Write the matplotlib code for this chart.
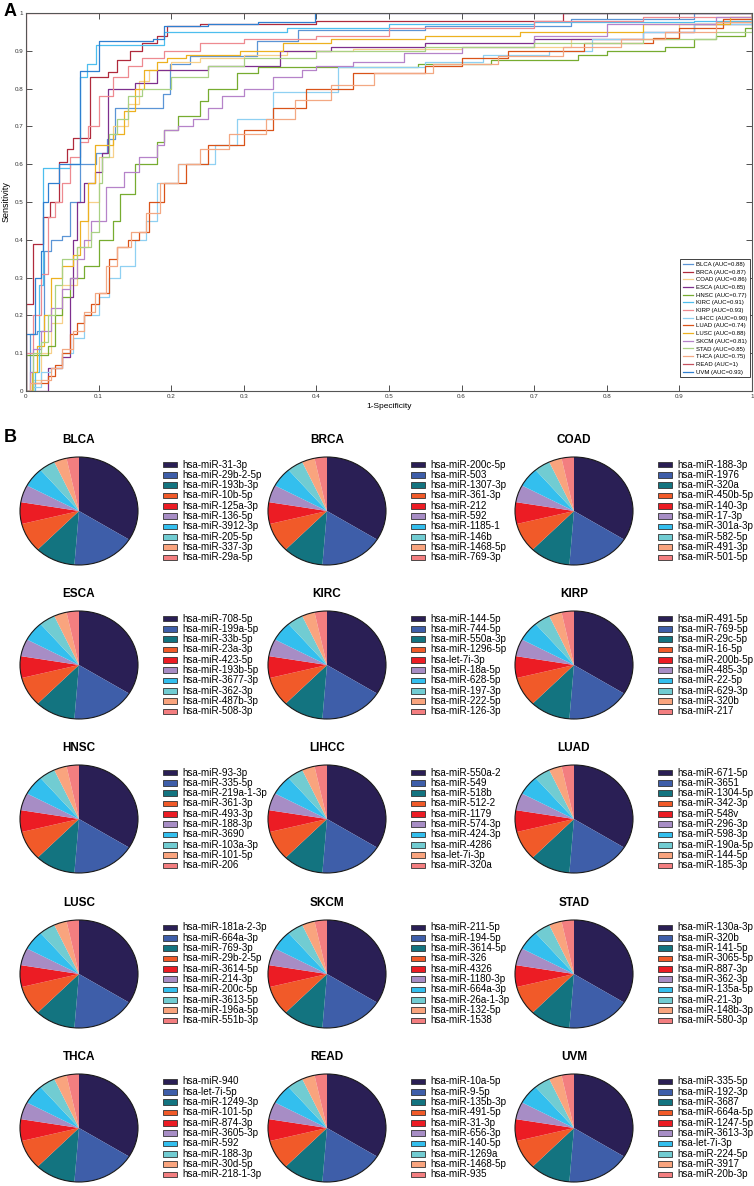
import matplotlib
matplotlib.use('Agg')
import matplotlib.pyplot as plt
from matplotlib.patches import Rectangle, Circle

plt.rcParams['font.family'] = ['Liberation Sans', 'DejaVu Sans']

W, H = 754, 1186

# ---------------- Panel A: ROC curves ----------------
cancers_roc = ['BLCA', 'BRCA', 'COAD', 'ESCA', 'HNSC', 'KIRC', 'KIRP', 'LIHCC',
               'LUAD', 'LUSC', 'SKCM', 'STAD', 'THCA', 'READ', 'UVM']
auc_labels = ['0.88', '0.87', '0.86', '0.85', '0.77', '0.91', '0.93', '0.90',
              '0.74', '0.88', '0.81', '0.85', '0.75', '1', '0.93']
roc_colors = ['#5b95d6', '#b02a3c', '#f7d08a', '#7e2f8e', '#77ac30', '#4dbeee',
              '#ee8a90', '#8fd0f2', '#d95319', '#edb120', '#b683c9', '#a9d184',
              '#f3a883', '#c4505e', '#2f7fd0']

fpr_BLCA = [0, 0.005, 0.015, 0.025, 0.035, 0.05, 0.06, 0.075, 0.097, 0.111, 0.123, 0.189, 0.198, 0.226, 0.318, 0.375, 0.55, 0.75, 0.92, 1.0]
tpr_BLCA = [0, 0.15, 0.16, 0.37, 0.40, 0.41, 0.5, 0.6, 0.63, 0.666, 0.75, 0.787, 0.865, 0.887, 0.927, 0.955, 0.965, 0.985, 1.0, 1.0]
fpr_BRCA = [0, 0, 0.01, 0.023, 0.033, 0.045, 0.056, 0.065, 0.088, 0.113, 0.125, 0.143, 0.16, 0.18, 0.194, 0.24, 0.4, 0.74, 1.0]
tpr_BRCA = [0, 0.23, 0.39, 0.46, 0.5, 0.607, 0.64, 0.67, 0.83, 0.845, 0.875, 0.9, 0.92, 0.94, 0.965, 0.972, 0.978, 1.0, 1.0]
fpr_COAD = [0, 0.01, 0.02, 0.035, 0.05, 0.07, 0.085, 0.1, 0.12, 0.14, 0.155, 0.17, 0.2, 0.24, 0.3, 0.36, 0.45, 0.6, 0.75, 0.9, 1.0]
tpr_COAD = [0, 0.03, 0.1, 0.18, 0.28, 0.38, 0.5, 0.62, 0.7, 0.76, 0.82, 0.85, 0.87, 0.88, 0.89, 0.9, 0.905, 0.91, 0.93, 0.97, 1.0]
fpr_ESCA = [0, 0.021, 0.03, 0.05, 0.06, 0.065, 0.07, 0.08, 0.095, 0.105, 0.113, 0.15, 0.18, 0.25, 0.35, 0.42, 0.55, 0.7, 0.85, 0.92, 1.0]
tpr_ESCA = [0, 0.0, 0.06, 0.09, 0.25, 0.4, 0.5, 0.55, 0.58, 0.63, 0.80, 0.815, 0.85, 0.86, 0.9, 0.91, 0.92, 0.93, 0.95, 0.97, 1.0]
fpr_HNSC = [0, 0.0, 0.03, 0.04, 0.05, 0.06, 0.08, 0.1, 0.12, 0.13, 0.15, 0.18, 0.19, 0.21, 0.24, 0.25, 0.29, 0.32, 0.54, 0.64, 0.76, 0.8, 0.88, 0.92, 0.95, 0.99, 1.0]
tpr_HNSC = [0, 0.095, 0.12, 0.2, 0.25, 0.3, 0.33, 0.4, 0.45, 0.52, 0.6, 0.66, 0.69, 0.727, 0.767, 0.80, 0.84, 0.856, 0.865, 0.875, 0.89, 0.90, 0.91, 0.93, 0.94, 0.96, 1.0]
fpr_KIRC = [0, 0.005, 0.012, 0.018, 0.024, 0.061, 0.074, 0.084, 0.097, 0.19, 0.36, 0.5, 0.7, 0.92, 1.0]
tpr_KIRC = [0, 0.0, 0.05, 0.28, 0.59, 0.60, 0.83, 0.865, 0.915, 0.95, 0.96, 0.97, 0.975, 0.98, 1.0]
fpr_KIRP = [0, 0.0, 0.01, 0.02, 0.03, 0.04, 0.05, 0.06, 0.075, 0.085, 0.1, 0.12, 0.14, 0.16, 0.19, 0.24, 0.3, 0.4, 0.5, 0.7, 0.85, 1.0]
tpr_KIRP = [0, 0.1, 0.2, 0.31, 0.46, 0.5, 0.55, 0.62, 0.66, 0.7, 0.78, 0.83, 0.86, 0.88, 0.9, 0.92, 0.93, 0.94, 0.96, 0.98, 0.99, 1.0]
fpr_LIHCC = [0, 0.01, 0.02, 0.035, 0.05, 0.065, 0.08, 0.1, 0.115, 0.13, 0.15, 0.165, 0.18, 0.21, 0.26, 0.29, 0.34, 0.43, 0.55, 0.63, 0.72, 0.78, 0.85, 0.92, 1.0]
tpr_LIHCC = [0, 0.01, 0.05, 0.06, 0.1, 0.14, 0.2, 0.25, 0.3, 0.33, 0.4, 0.45, 0.55, 0.6, 0.65, 0.72, 0.79, 0.856, 0.87, 0.89, 0.9, 0.93, 0.95, 0.97, 1.0]
fpr_LUAD = [0, 0.01, 0.03, 0.04, 0.05, 0.06, 0.07, 0.08, 0.09, 0.1, 0.115, 0.125, 0.14, 0.155, 0.17, 0.19, 0.22, 0.25, 0.3, 0.34, 0.385, 0.45, 0.55, 0.6, 0.664, 0.768, 0.864, 0.9, 0.96, 1.0]
tpr_LUAD = [0, 0.02, 0.04, 0.07, 0.1, 0.15, 0.18, 0.2, 0.23, 0.26, 0.35, 0.38, 0.4, 0.42, 0.5, 0.55, 0.6, 0.65, 0.69, 0.75, 0.8, 0.84, 0.86, 0.88, 0.9, 0.92, 0.935, 0.96, 0.984, 1.0]
fpr_LUSC = [0, 0.008, 0.015, 0.025, 0.035, 0.05, 0.065, 0.075, 0.085, 0.095, 0.12, 0.135, 0.15, 0.162, 0.18, 0.194, 0.22, 0.295, 0.354, 0.42, 0.55, 0.68, 0.85, 0.97, 1.0]
tpr_LUSC = [0, 0.05, 0.12, 0.2, 0.3, 0.33, 0.36, 0.45, 0.55, 0.65, 0.68, 0.74, 0.80, 0.85, 0.87, 0.88, 0.89, 0.9, 0.92, 0.93, 0.94, 0.95, 0.97, 0.99, 1.0]
fpr_SKCM = [0, 0.005, 0.01, 0.02, 0.035, 0.05, 0.06, 0.07, 0.08, 0.09, 0.11, 0.135, 0.155, 0.18, 0.19, 0.21, 0.23, 0.25, 0.27, 0.3, 0.34, 0.38, 0.4, 0.45, 0.52, 0.6, 0.7, 0.8, 0.95, 1.0]
tpr_SKCM = [0, 0.05, 0.11, 0.16, 0.22, 0.27, 0.3, 0.35, 0.4, 0.45, 0.54, 0.58, 0.62, 0.65, 0.69, 0.7, 0.72, 0.75, 0.78, 0.8, 0.83, 0.85, 0.86, 0.87, 0.895, 0.91, 0.94, 0.97, 0.99, 1.0]
fpr_STAD = [0, 0.01, 0.02, 0.03, 0.04, 0.05, 0.07, 0.09, 0.1, 0.105, 0.115, 0.125, 0.14, 0.16, 0.2, 0.25, 0.3, 0.4, 0.55, 0.7, 0.85, 0.95, 1.0]
tpr_STAD = [0, 0.1, 0.13, 0.2, 0.28, 0.35, 0.38, 0.42, 0.55, 0.62, 0.68, 0.72, 0.78, 0.8, 0.83, 0.86, 0.88, 0.9, 0.91, 0.92, 0.93, 0.95, 1.0]
fpr_THCA = [0, 0.005, 0.02, 0.035, 0.05, 0.065, 0.08, 0.095, 0.11, 0.125, 0.145, 0.165, 0.185, 0.21, 0.24, 0.28, 0.33, 0.37, 0.42, 0.48, 0.56, 0.65, 0.74, 0.82, 0.88, 0.95, 1.0]
tpr_THCA = [0, 0.02, 0.03, 0.06, 0.11, 0.16, 0.21, 0.26, 0.33, 0.38, 0.42, 0.47, 0.55, 0.6, 0.64, 0.68, 0.72, 0.77, 0.81, 0.84, 0.865, 0.885, 0.91, 0.93, 0.95, 0.975, 1.0]
fpr_READ = [0, 0, 1.0]
tpr_READ = [0, 1.0, 1.0]
fpr_UVM = [0, 0.0, 0.012, 0.02, 0.024, 0.03, 0.045, 0.074, 0.1, 0.175, 0.19, 0.25, 0.32, 0.398, 1.0]
tpr_UVM = [0, 0.15, 0.30, 0.37, 0.50, 0.55, 0.60, 0.847, 0.925, 0.93, 0.965, 0.97, 0.975, 1.0, 1.0]

fpr_all = [fpr_BLCA, fpr_BRCA, fpr_COAD, fpr_ESCA, fpr_HNSC, fpr_KIRC, fpr_KIRP, fpr_LIHCC,
           fpr_LUAD, fpr_LUSC, fpr_SKCM, fpr_STAD, fpr_THCA, fpr_READ, fpr_UVM]
tpr_all = [tpr_BLCA, tpr_BRCA, tpr_COAD, tpr_ESCA, tpr_HNSC, tpr_KIRC, tpr_KIRP, tpr_LIHCC,
           tpr_LUAD, tpr_LUSC, tpr_SKCM, tpr_STAD, tpr_THCA, tpr_READ, tpr_UVM]

# ---------------- Panel B: pies ----------------
pie_cancers = ['BLCA', 'BRCA', 'COAD', 'ESCA', 'KIRC', 'KIRP', 'HNSC', 'LIHCC', 'LUAD',
               'LUSC', 'SKCM', 'STAD', 'THCA', 'READ', 'UVM']
slice_share = [33.9, 17.4, 11.1, 8.8, 6.5, 5.2, 5.9, 4.4, 3.5, 3.4]
pie_colors = ['#2a1f55', '#3e5ea9', '#137480', '#f15a29', '#ec1c24', '#a78dc5',
              '#33bfee', '#71ccd2', '#f9a47e', '#f37e80']

mir_BLCA = ['hsa-miR-31-3p', 'hsa-miR-29b-2-5p', 'hsa-miR-193b-3p', 'hsa-miR-10b-5p', 'hsa-miR-125a-3p',
            'hsa-miR-136-5p', 'hsa-miR-3912-3p', 'hsa-miR-205-5p', 'hsa-miR-337-3p', 'hsa-miR-29a-5p']
mir_BRCA = ['hsa-miR-200c-5p', 'hsa-miR-503', 'hsa-miR-1307-3p', 'hsa-miR-361-3p', 'hsa-miR-212',
            'hsa-miR-592', 'hsa-miR-1185-1', 'hsa-miR-146b', 'hsa-miR-1468-5p', 'hsa-miR-769-3p']
mir_COAD = ['hsa-miR-188-3p', 'hsa-miR-1976', 'hsa-miR-320a', 'hsa-miR-450b-5p', 'hsa-miR-140-3p',
            'hsa-miR-17-3p', 'hsa-miR-301a-3p', 'hsa-miR-582-5p', 'hsa-miR-491-3p', 'hsa-miR-501-5p']
mir_ESCA = ['hsa-miR-708-5p', 'hsa-miR-199a-5p', 'hsa-miR-33b-5p', 'hsa-miR-23a-3p', 'hsa-miR-423-5p',
            'hsa-miR-193b-5p', 'hsa-miR-3677-3p', 'hsa-miR-362-3p', 'hsa-miR-487b-3p', 'hsa-miR-508-3p']
mir_KIRC = ['hsa-miR-144-5p', 'hsa-miR-744-5p', 'hsa-miR-550a-3p', 'hsa-miR-1296-5p', 'hsa-let-7i-3p',
            'hsa-miR-18a-5p', 'hsa-miR-628-5p', 'hsa-miR-197-3p', 'hsa-miR-222-5p', 'hsa-miR-126-3p']
mir_KIRP = ['hsa-miR-491-5p', 'hsa-miR-769-5p', 'hsa-miR-29c-5p', 'hsa-miR-16-5p', 'hsa-miR-200b-5p',
            'hsa-miR-485-3p', 'hsa-miR-22-5p', 'hsa-miR-629-3p', 'hsa-miR-320b', 'hsa-miR-217']
mir_HNSC = ['hsa-miR-93-3p', 'hsa-miR-335-5p', 'hsa-miR-219a-1-3p', 'hsa-miR-361-3p', 'hsa-miR-493-3p',
            'hsa-miR-188-3p', 'hsa-miR-3690', 'hsa-miR-103a-3p', 'hsa-miR-101-5p', 'hsa-miR-206']
mir_LIHCC = ['hsa-miR-550a-2', 'hsa-miR-549', 'hsa-miR-518b', 'hsa-miR-512-2', 'hsa-miR-1179',
             'hsa-miR-574-3p', 'hsa-miR-424-3p', 'hsa-miR-4286', 'hsa-let-7i-3p', 'hsa-miR-320a']
mir_LUAD = ['hsa-miR-671-5p', 'hsa-miR-3651', 'hsa-miR-1304-5p', 'hsa-miR-342-3p', 'hsa-miR-548v',
            'hsa-miR-296-3p', 'hsa-miR-598-3p', 'hsa-miR-190a-5p', 'hsa-miR-144-5p', 'hsa-miR-185-3p']
mir_LUSC = ['hsa-miR-181a-2-3p', 'hsa-miR-664a-3p', 'hsa-miR-769-3p', 'hsa-miR-29b-2-5p', 'hsa-miR-3614-5p',
            'hsa-miR-214-3p', 'hsa-miR-200c-5p', 'hsa-miR-3613-5p', 'hsa-miR-196a-5p', 'hsa-miR-551b-3p']
mir_SKCM = ['hsa-miR-211-5p', 'hsa-miR-194-5p', 'hsa-miR-3614-5p', 'hsa-miR-326', 'hsa-miR-4326',
            'hsa-miR-1180-3p', 'hsa-miR-664a-3p', 'hsa-miR-26a-1-3p', 'hsa-miR-132-5p', 'hsa-miR-1538']
mir_STAD = ['hsa-miR-130a-3p', 'hsa-miR-320b', 'hsa-miR-141-5p', 'hsa-miR-3065-5p', 'hsa-miR-887-3p',
            'hsa-miR-362-3p', 'hsa-miR-135a-5p', 'hsa-miR-21-3p', 'hsa-miR-148b-3p', 'hsa-miR-580-3p']
mir_THCA = ['hsa-miR-940', 'hsa-let-7i-5p', 'hsa-miR-1249-3p', 'hsa-miR-101-5p', 'hsa-miR-874-3p',
            'hsa-miR-3605-3p', 'hsa-miR-592', 'hsa-miR-188-3p', 'hsa-miR-30d-5p', 'hsa-miR-218-1-3p']
mir_READ = ['hsa-miR-10a-5p', 'hsa-miR-9-5p', 'hsa-miR-135b-3p', 'hsa-miR-491-5p', 'hsa-miR-31-3p',
            'hsa-miR-656-3p', 'hsa-miR-140-5p', 'hsa-miR-1269a', 'hsa-miR-1468-5p', 'hsa-miR-935']
mir_UVM = ['hsa-miR-335-5p', 'hsa-miR-192-3p', 'hsa-miR-3687', 'hsa-miR-664a-5p', 'hsa-miR-1247-5p',
           'hsa-miR-3613-3p', 'hsa-let-7i-3p', 'hsa-miR-224-5p', 'hsa-miR-3917', 'hsa-miR-20b-3p']

mir_all = [mir_BLCA, mir_BRCA, mir_COAD, mir_ESCA, mir_KIRC, mir_KIRP, mir_HNSC, mir_LIHCC, mir_LUAD,
           mir_LUSC, mir_SKCM, mir_STAD, mir_THCA, mir_READ, mir_UVM]

fig = plt.figure(figsize=(W / 100, H / 100), dpi=100)


def fx(px):
    return px / W


def fy(py):
    return 1 - py / H


# ROC axes
ax_l, ax_r, ax_t, ax_b = 26, 752, 13, 391
ax = fig.add_axes([fx(ax_l), fy(ax_b), fx(ax_r - ax_l), (ax_b - ax_t) / H])
for name, auc, col, f, t in zip(cancers_roc, auc_labels, roc_colors, fpr_all, tpr_all):
    ax.plot(f, t, drawstyle='steps-post', color=col, lw=0.9,
            label='%s (AUC=%s)' % (name, auc))
ax.set_xlim(0, 1)
ax.set_ylim(0, 1)
ticks = [i / 10 for i in range(11)]
tick_txt = ['0', '0.1', '0.2', '0.3', '0.4', '0.5', '0.6', '0.7', '0.8', '0.9', '1']
ax.set_xticks(ticks)
ax.set_xticklabels(tick_txt)
ax.set_yticks(ticks)
ax.set_yticklabels(tick_txt)
ax.tick_params(direction='in', length=4, width=0.6, labelsize=4.5, colors='#333333',
               top=True, right=True, pad=2)
for s in ax.spines.values():
    s.set_color('#555555')
    s.set_linewidth(0.8)
ax.set_xlabel('1-Specificity', fontsize=6, labelpad=3)
ax.set_ylabel('Sensitivity', fontsize=6.5, labelpad=3)
leg = ax.legend(loc='lower right', bbox_to_anchor=((750 - ax_l) / (ax_r - ax_l), (ax_b - 377) / (ax_b - ax_t)),
                borderaxespad=0, fontsize=4.3, fancybox=False, edgecolor='#222222',
                framealpha=1, handlelength=1.8, labelspacing=0.42, borderpad=0.4, handletextpad=0.5)
leg.get_frame().set_linewidth(0.6)

fig.text(fx(4), fy(12), 'A', fontsize=13, fontweight='bold', va='center', ha='left')
fig.text(fx(4), fy(438), 'B', fontsize=13, fontweight='bold', va='center', ha='left')

# pie grid
col_x = [79, 327, 574]
row_y = [511, 665, 819, 974, 1128]
rx, ry = 59, 54
for k, (name, mirs) in enumerate(zip(pie_cancers, mir_all)):
    cx = col_x[k % 3]
    cy = row_y[k // 3]
    pax = fig.add_axes([fx(cx - rx), fy(cy + ry), fx(2 * rx), 2 * ry / H])
    wedges, _ = pax.pie(slice_share, colors=pie_colors, startangle=90, counterclock=False,
                        wedgeprops=dict(linewidth=0))
    pax.set_aspect('auto')
    pax.set_xlim(-1, 1)
    pax.set_ylim(-1, 1)
    pax.add_patch(Circle((0, 0), 1, fill=False, lw=0.8, ec='#1a1a1a', clip_on=False))
    pax.axis('off')
    fig.text(fx(cx), fy(cy - 71), name, fontsize=8.5, fontweight='bold', ha='center', va='center')
    for i, (m, c) in enumerate(zip(mirs, pie_colors)):
        yy = cy - 46.5 + i * 10.33
        fig.patches.append(Rectangle((fx(cx + 84), fy(yy + 2.8)), fx(14), 5.6 / H,
                                     transform=fig.transFigure, facecolor=c,
                                     edgecolor='#333333', lw=0.6))
        fig.text(fx(cx + 103), fy(yy), m, fontsize=7.1, ha='left', va='center')

fig.savefig('out.png', dpi=100)
